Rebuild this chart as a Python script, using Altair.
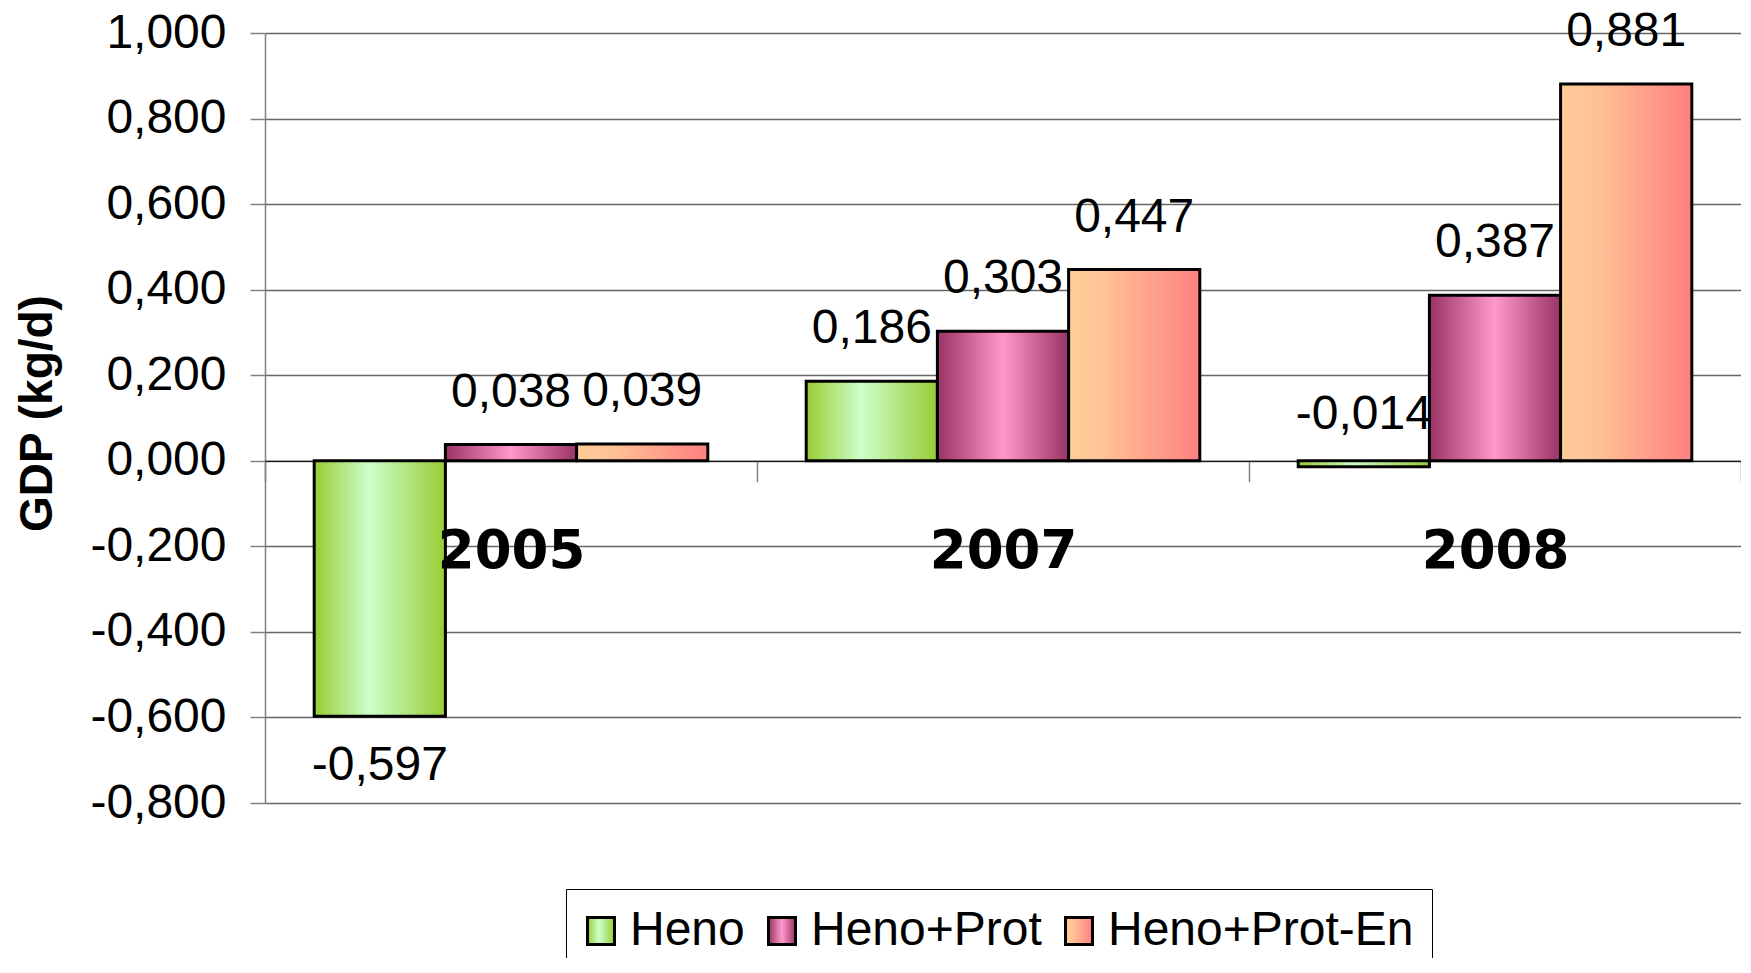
import altair as alt
import pandas as pd

# ---- data ----
years = ["2005", "2007", "2008"]
series = ["Heno", "Heno+Prot", "Heno+Prot-En"]
heno = [-0.597, 0.186, -0.014]
heno_prot = [0.038, 0.303, 0.387]
heno_prot_en = [0.039, 0.447, 0.881]
y_ticks = [-0.8, -0.6, -0.4, -0.2, 0.0, 0.2, 0.4, 0.6, 0.8, 1.0]
y_domain = [-0.8, 1.0]

# gradient stops (offset, colour) per series
grad_stops = {
    "Heno": [(0.0, "#99CC33"), (0.42, "#CCFFCC"), (1.0, "#99CC33")],
    "Heno+Prot": [(0.0, "#993366"), (0.5, "#FF99CC"), (1.0, "#993366")],
    "Heno+Prot-En": [(0.0, "#FFCC99"), (0.25, "#FFC496"), (1.0, "#FF8080")],
}

rows = []
for s, vals in zip(series, [heno, heno_prot, heno_prot_en]):
    for yr, v in zip(years, vals):
        rows.append({"year": yr, "series": s, "value": v})
df = pd.DataFrame(rows)

FONT = "Liberation Sans"
W, H = 1476, 770
x_axis_offset = -H * (0 - y_domain[0]) / (y_domain[1] - y_domain[0])
NUM_FMT = "(datum.value < 0 ? '-' : '') + replace(format(abs(datum.value), '.3f'), '.', ',')"


def gradient(stops):
    return {
        "gradient": "linear", "x1": 0, "y1": 0, "x2": 1, "y2": 0,
        "stops": [{"offset": o, "color": c} for o, c in stops],
    }


def grad_js(stops):
    st = ",".join("{offset:%s,color:'%s'}" % (o, c) for o, c in stops)
    return "{gradient:'linear',x1:0,y1:0,x2:1,y2:0,stops:[" + st + "]}"


legend_fill_expr = (
    f"datum.value === '{series[0]}' ? {grad_js(grad_stops[series[0]])} : "
    f"datum.value === '{series[1]}' ? {grad_js(grad_stops[series[1]])} : "
    f"{grad_js(grad_stops[series[2]])}"
)

x_enc = alt.X(
    "year:N", sort=years,
    scale=alt.Scale(paddingInner=0, paddingOuter=0),
    axis=alt.Axis(
        title=None, labelAngle=0, tickBand="extent", offset=x_axis_offset,
        tickSize=21, tickColor="#808080", tickWidth=1.5,
        domainColor="#000000", domainWidth=1,
        labelFont="DejaVu Sans", labelFontWeight="bold", labelFontSize=53,
        labelColor="black", labelPadding=44, grid=False, zindex=1,
    ),
)
xo_enc = alt.XOffset("series:N", scale=alt.Scale(domain=series, paddingInner=0, paddingOuter=0.375))
y_enc = alt.Y(
    "value:Q",
    scale=alt.Scale(domain=y_domain, nice=False, zero=False),
    axis=alt.Axis(
        values=y_ticks,
        labelExpr=NUM_FMT,
        title="GDP  (kg/d)", titleFont=FONT, titleFontSize=46, titleFontWeight="bold",
        titleColor="black", titlePadding=28, titleY=380,
        labelFont=FONT, labelFontSize=48, labelColor="black", labelPadding=24,
        tickSize=15, tickColor="#808080", tickWidth=1.5,
        domainColor="#808080", domainWidth=1.5,
        grid=True, gridColor="#666666", gridWidth=1.5, zindex=0,
    ),
)

base = alt.Chart(df).transform_calculate(label=NUM_FMT).encode(x=x_enc, xOffset=xo_enc, y=y_enc)

bar_layers = [
    base.transform_filter(alt.datum.series == s).mark_bar(
        fill=gradient(grad_stops[s]), stroke="black", strokeWidth=3
    )
    for s in series
]

txt_style = dict(font=FONT, fontSize=48, color="black", baseline="alphabetic")
labels_above = base.transform_filter("datum.value >= -0.05").mark_text(dy=-38, **txt_style).encode(text="label:N")
labels_below = base.transform_filter("datum.value < -0.05").mark_text(dy=64, **txt_style).encode(text="label:N")

legend_layer = alt.Chart(df).transform_filter("false").mark_point(
    filled=True, fill=alt.ExprRef(legend_fill_expr), stroke="black", strokeWidth=3, opacity=1
).encode(
    shape=alt.Shape(
        "series:N",
        scale=alt.Scale(domain=series, range=["square", "square", "square"]),
        legend=alt.Legend(
            title=None, orient="none", legendX=301, legendY=856, direction="horizontal",
            symbolSize=729, symbolStrokeWidth=3, symbolOffset=-7,
            labelFont=FONT, labelFontSize=48, labelColor="black", labelLimit=1000,
            labelOffset=5, columnPadding=17, padding=18,
            strokeColor="black", fillColor="white",
        ),
    )
)

chart = alt.layer(*bar_layers, labels_above, labels_below, legend_layer).properties(
    width=W, height=H,
    autosize=alt.AutoSizeParams(type="none"),
    padding={"left": 257, "top": 25, "right": 0, "bottom": 155},
).configure_view(stroke=None).configure(background="white")

chart.save("out.html", embed_options={"renderer": "svg", "actions": False})
